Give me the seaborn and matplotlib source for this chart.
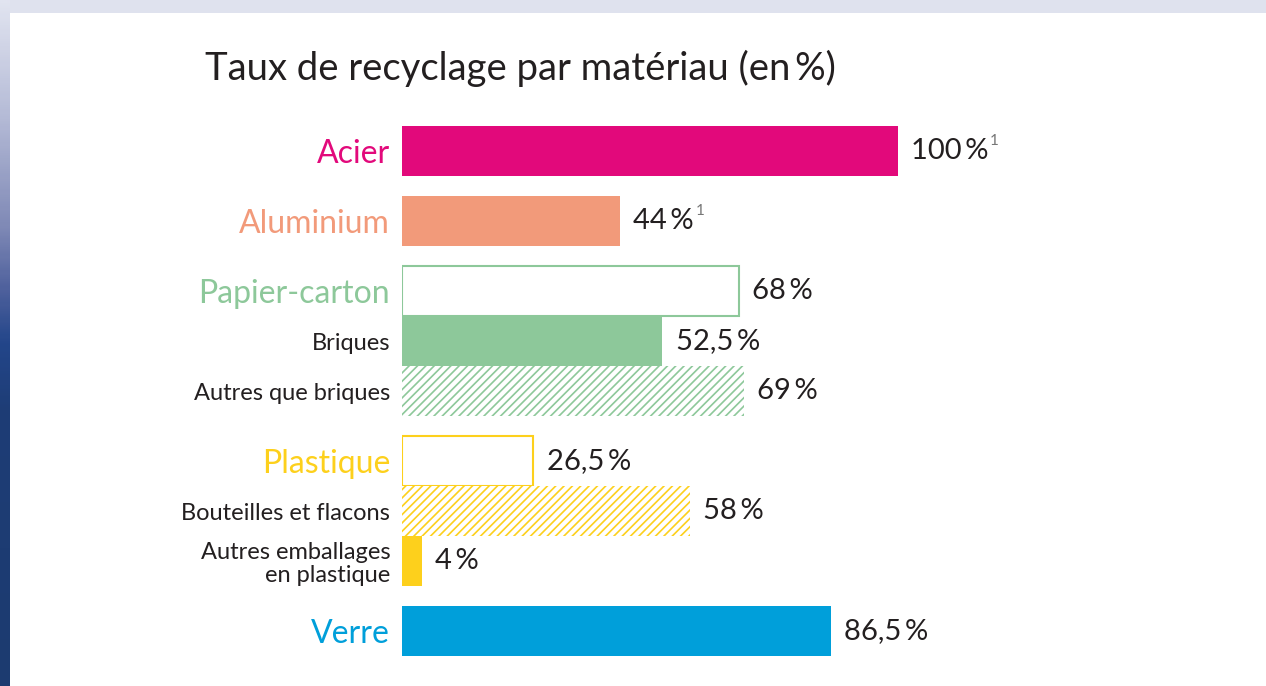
import numpy as np
import matplotlib
matplotlib.use("Agg")
import matplotlib.pyplot as plt
from matplotlib.colors import LinearSegmentedColormap
from matplotlib.patches import Rectangle
import seaborn as sns

# data
labels = ["Acier", "Aluminium", "Papier-carton", "Briques", "Autres que briques",
          "Plastique", "Bouteilles et flacons", "Autres emballages\nen plastique", "Verre"]
values = [100, 44, 68, 52.5, 69, 26.5, 58, 4, 86.5]
value_labels = ["100\u2009%", "44\u2009%", "68\u2009%", "52,5\u2009%", "69\u2009%",
                "26,5\u2009%", "58\u2009%", "4\u2009%", "86,5\u2009%"]
footnote = [True, True, False, False, False, False, False, False, False]
groups = [0, 1, 2, 2, 2, 3, 3, 3, 4]
main = [True, True, True, False, False, True, False, False, True]

MAGENTA = "#E2097B"
SALMON = "#F29A7A"
GREEN = "#8DC89A"
YELLOW = "#FDD01C"
BLUE = "#009FDA"
DARK = "#231F20"

# (colour, kind) per bar: solid, outline or hatch
bar_style = [(MAGENTA, "solid"), (SALMON, "solid"), (GREEN, "outline"), (GREEN, "solid"),
             (GREEN, "hatch"), (YELLOW, "outline"), (YELLOW, "hatch"), (YELLOW, "solid"),
             (BLUE, "solid")]

sns.set_style("white")
plt.rcParams["font.family"] = ["Lato", "DejaVu Sans"]
plt.rcParams["hatch.linewidth"] = 1.2

W, H = 1266, 686
fig = plt.figure(figsize=(W / 100, H / 100), dpi=100, facecolor="#DFE2EE")

# left gradient strip + white panel
strip = fig.add_axes([0, 0, 10 / W, 1])
cmap = LinearSegmentedColormap.from_list(
    "strip",
    [(0, "#E1E4F0"), (0.17, "#B4BAD6"), (0.33, "#7F89B6"), (0.42, "#4F619D"),
     (0.5, "#23468A"), (0.6, "#1E3D76"), (1, "#1C3B70")])
strip.imshow(np.linspace(0, 1, 300).reshape(-1, 1), cmap=cmap, aspect="auto")
strip.axis("off")
fig.add_artist(Rectangle((10 / W, 0), 1 - 10 / W, 1 - 13 / H,
                         transform=fig.transFigure, facecolor="white",
                         edgecolor="none", zorder=-1))

positions = [i + 0.4 * g for i, g in enumerate(groups)]

ax = fig.add_axes([402 / W, 30 / H, 744 / W, 530 / H])
ax.set_facecolor("none")
sns.barplot(x=values, y=positions, orient="h", native_scale=True, width=1.0,
            errorbar=None, color=GREEN, saturation=1, ax=ax)

for p in ax.patches:
    yc = p.get_y() + p.get_height() / 2
    i = int(np.argmin([abs(yc - q) for q in positions]))
    col, kind = bar_style[i]
    if kind == "solid":
        p.set_facecolor(col)
        p.set_edgecolor("none")
        p.set_linewidth(0)
    elif kind == "outline":
        p.set_facecolor("white")
        p.set_edgecolor(col)
        p.set_linewidth(1.5)
    else:
        p.set_facecolor("white")
        p.set_edgecolor(col)
        p.set_hatch("////")
        p.set_linewidth(0)

ax.set_xlim(0, 150)
ax.set_ylim(positions[-1] + 0.5, -0.5)
ax.set_yticks(positions)
ax.set_yticklabels(labels)
ax.set_xticks([])
ax.tick_params(axis="y", length=0, pad=8.5)
sns.despine(ax=ax, left=True, bottom=True)
ax.set_xlabel("")
ax.set_ylabel("")

for i, t in enumerate(ax.get_yticklabels()):
    if main[i]:
        t.set_color(bar_style[i][0])
        t.set_fontsize(23)
    else:
        t.set_color(DARK)
        t.set_fontsize(17)
        t.set_linespacing(1.12)

for i, v in enumerate(values):
    txt = ax.annotate(value_labels[i], xy=(v, positions[i]), xytext=(9.5, 0),
                      textcoords="offset points", va="center", ha="left",
                      fontsize=21, color=DARK)
    if footnote[i]:
        ax.annotate("1", xy=(1, 1), xycoords=txt, xytext=(1, 3),
                    textcoords="offset points", ha="left", va="top",
                    fontsize=11, color="#777777")

fig.text(205 / W, 1 - 80 / H, "Taux de recyclage par matériau (en\u2009%)",
         fontsize=27.5, color=DARK, ha="left", va="baseline")

fig.savefig("out.png", dpi=100)
